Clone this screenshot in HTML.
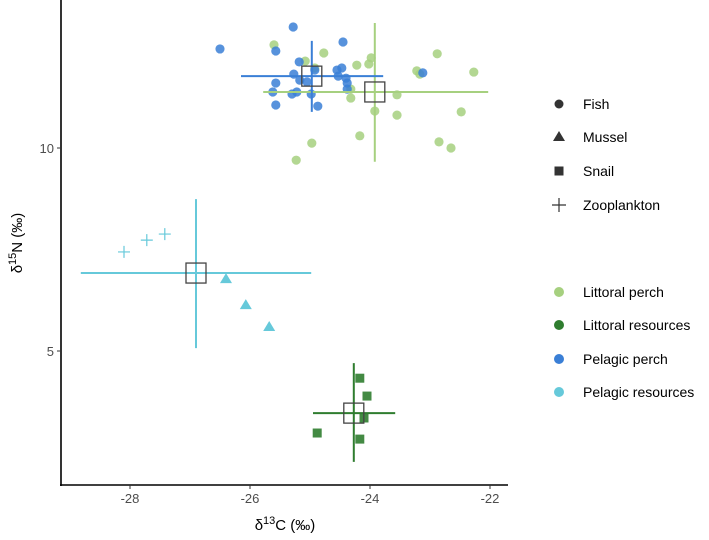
<!DOCTYPE html>
<html><head><meta charset="utf-8"><style>
body{margin:0;background:#fff}
svg{display:block;font-family:"Liberation Sans",sans-serif}
</style></head><body>
<svg id="chart" width="709" height="540"></svg>
<script>
const fishLittoralC=[-25.6,-25.08,-24.77,-24.22,-24.02,-23.98,-24.32,-24.32,-23.92,-23.55,-23.55,-22.88,-23.22,-23.17,-22.27,-22.48,-22.85,-22.65,-24.17,-24.97,-25.23,-24.92];
const fishLittoralN=[12.54,12.14,12.34,12.04,12.07,12.22,11.45,11.23,10.91,11.31,10.81,12.32,11.9,11.82,11.87,10.89,10.15,10.0,10.3,10.12,9.7,11.97];
const fishPelagicC=[-26.5,-25.28,-25.57,-24.45,-25.18,-25.27,-25.17,-25.57,-25.62,-25.3,-25.22,-24.98,-25.57,-24.87,-24.55,-24.47,-24.53,-24.4,-24.38,-24.38,-23.12,-24.92,-25.05];
const fishPelagicN=[12.44,12.98,12.39,12.61,12.12,11.82,11.67,11.6,11.38,11.33,11.38,11.33,11.06,11.03,11.92,11.97,11.77,11.72,11.6,11.45,11.85,11.92,11.63];
const zooC=[-28.1,-27.72,-27.42];
const zooN=[7.44,7.73,7.88];
const musselC=[-26.4,-26.07,-25.68];
const musselN=[6.77,6.13,5.59];
const snailC=[-24.17,-24.05,-24.1,-24.88,-24.17];
const snailN=[4.33,3.89,3.35,2.98,2.83];
// group means and ranges: [meanC, meanN, minC, maxC, minN, maxN]
const groupNames=["Littoral perch","Littoral resources","Pelagic perch","Pelagic resources"];
const groupMeanC=[-23.92,-24.27,-24.97,-26.9];
const groupMeanN=[11.38,3.47,11.77,6.92];
const groupMinC=[-25.78,-24.95,-26.15,-28.82];
const groupMaxC=[-22.03,-23.58,-23.78,-24.98];
const groupMinN=[9.66,2.27,10.89,5.07];
const groupMaxN=[13.08,4.7,12.64,8.74];
const xTicks=[-28,-26,-24,-22];
const yTicks=[5,10];

const colors=["#a6d07f","#2f7d2f","#3a7fd6","#66c9da"];
const NS="http://www.w3.org/2000/svg";
const svg=document.getElementById('chart');
const X=v=>130+(v+28)*60;
const Y=v=>148-(v-10)*40.6;
function mk(tag,attrs,parent){const e=document.createElementNS(NS,tag);for(const k in attrs)e.setAttribute(k,attrs[k]);(parent||svg).appendChild(e);return e;}

// axes
let ax=mk('line',{x1:61,y1:0,x2:61,y2:486,stroke:'#000','stroke-width':1.6});


ax=mk('line',{x1:60,y1:485,x2:508,y2:485,stroke:'#000','stroke-width':1.6});


xTicks.forEach(t=>{
  const tk=mk('line',{x1:X(t),y1:485,x2:X(t),y2:489,stroke:'#333'});
  
  
  const tx=mk('text',{x:X(t),y:503,'text-anchor':'middle','font-size':13,fill:'#4d4d4d'});
  tx.textContent=String(t).replace('-','-');
  
  
});
yTicks.forEach(t=>{
  const tk=mk('line',{x1:57,y1:Y(t),x2:61,y2:Y(t),stroke:'#333'});
  
  
  const tx=mk('text',{x:54,y:Y(t)+5,'text-anchor':'end','font-size':13,fill:'#4d4d4d'});
  tx.textContent=t;
  
  
});
let xt=mk('text',{x:285,y:530,'text-anchor':'middle','font-size':15,fill:'#000'});
xt.innerHTML='δ<tspan dy="-6" font-size="11">13</tspan><tspan dy="6">C (‰)</tspan>';


let yt=mk('text',{x:0,y:0,'text-anchor':'middle','font-size':15,fill:'#000',transform:'translate(22,243) rotate(-90)'});
yt.innerHTML='δ<tspan dy="-6" font-size="11">15</tspan><tspan dy="6">N (‰)</tspan>';



// points
function circles(cs,ns,col,name){cs.forEach((c,i)=>{const e=mk('circle',{cx:X(c),cy:Y(ns[i]),r:4.6,fill:col,'fill-opacity':0.85});});}
circles(fishLittoralC,fishLittoralN,colors[0],'littoral-perch-point');
circles(fishPelagicC,fishPelagicN,colors[2],'pelagic-perch-point');
zooC.forEach((c,i)=>{const x=X(c),y=Y(zooN[i]);const e=mk('path',{d:`M${x-6} ${y}H${x+6}M${x} ${y-6}V${y+6}`,stroke:colors[3],'stroke-width':1.2,fill:'none'});});
musselC.forEach((c,i)=>{const x=X(c),y=Y(musselN[i]);const e=mk('path',{d:`M${x} ${y-6}L${x+6} ${y+4}L${x-6} ${y+4}Z`,fill:colors[3]});});
snailC.forEach((c,i)=>{const x=X(c),y=Y(snailN[i]);const e=mk('rect',{x:x-4.5,y:y-4.5,width:9,height:9,fill:colors[1],'fill-opacity':0.9});});

// group means with ranges
groupNames.forEach((g,i)=>{
  const cx=X(groupMeanC[i]),cy=Y(groupMeanN[i]);
  const h=mk('line',{x1:X(groupMinC[i]),y1:cy,x2:X(groupMaxC[i]),y2:cy,stroke:colors[i],'stroke-width':2});
  
  
  const v=mk('line',{x1:cx,y1:Y(groupMaxN[i]),x2:cx,y2:Y(groupMinN[i]),stroke:colors[i],'stroke-width':2});
  
  
  const s=mk('rect',{x:cx-10,y:cy-10,width:20,height:20,fill:'none',stroke:'#444','stroke-width':1.3});
  
  
});

// legend
const shapeLabels=["Fish","Mussel","Snail","Zooplankton"];
const shapeY=[104,137,171,205];
shapeLabels.forEach((l,i)=>{
  const x=559,y=shapeY[i];let e;
  if(i==0)e=mk('circle',{cx:x,cy:y,r:4.5,fill:'#333'});
  else if(i==1)e=mk('path',{d:`M${x} ${y-6}L${x+6} ${y+4}L${x-6} ${y+4}Z`,fill:'#333'});
  else if(i==2)e=mk('rect',{x:x-4.5,y:y-4.5,width:9,height:9,fill:'#333'});
  else e=mk('path',{d:`M${x-7} ${y}H${x+7}M${x} ${y-7}V${y+7}`,stroke:'#333','stroke-width':1.2});
  
  
  const t=mk('text',{x:583,y:y+5,'font-size':14,fill:'#000'});t.textContent=l;
  
  
});
const colY=[292,325,359,392];
groupNames.forEach((g,i)=>{
  const e=mk('circle',{cx:559,cy:colY[i],r:5,fill:colors[i]});
  
  
  const t=mk('text',{x:583,y:colY[i]+5,'font-size':14,fill:'#000'});t.textContent=g;
  
  
});
</script>
</body></html>
